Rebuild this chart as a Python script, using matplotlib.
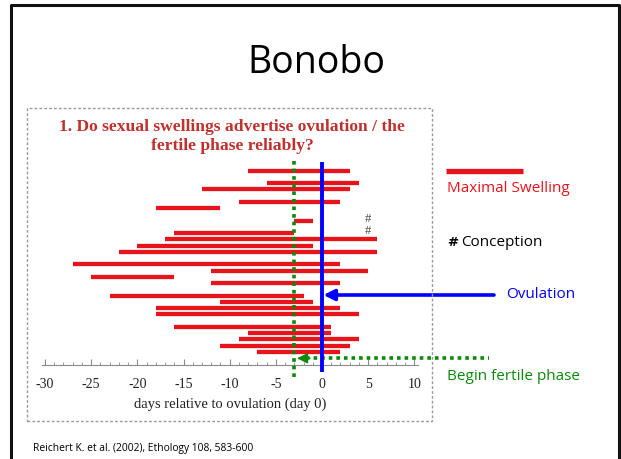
"""Bonobo slide: duration of maximal sexual swelling relative to ovulation."""
import matplotlib
matplotlib.use("Agg")
import matplotlib.pyplot as plt
from matplotlib.lines import Line2D
from matplotlib.patches import Rectangle

# one row per cycle (top to bottom), start / end of maximal swelling (days)
rows = [0, 2, 3, 5, 6, 8, 10, 11, 12, 13, 15, 16, 17, 18, 20,
        21, 22, 23, 25, 26, 27, 28, 29]
swell_start = [-8, -6, -13, -9, -18, -3, -16, -17, -20, -22, -27, -12, -25, -12, -23,
               -11, -18, -18, -16, -8, -9, -11, -7]
swell_end = [3, 4, 3, 2, -11, -1, -3, 6, -1, 6, 2, 5, -16, 2, -2,
             -1, 2, 4, 1, 1, 4, 3, 2]
conception_rows = [8, 10]
conception_day = 5
ovulation_day = 0
fertile_day = -3

RED = "#e8141c"
BLUE = "#0000ff"
GREEN = "#0a8a0a"
TITLE_RED = "#c0302c"
W, H = 621, 459


def px(x, y):
    return x / W, 1 - y / H


fig = plt.figure(figsize=(W / 100, H / 100), dpi=100)
fig.patch.set_facecolor("white")

# slide frame and panel frame
fig.add_artist(Line2D([11 / W, 11 / W, 619 / W, 619 / W], [0, 1 - 5 / H, 1 - 5 / H, 0],
                      color="#111111", lw=2.2, transform=fig.transFigure))
x0, y0 = px(26.5, 420.7)
x1, y1 = px(431.7, 108)
fig.add_artist(Rectangle((x0, y0), x1 - x0, y1 - y0, transform=fig.transFigure,
                         fill=False, ec="#999999", lw=1, ls=(0, (2, 1.5))))

fig.text(*px(316, 63), "Bonobo", family="Open Sans", fontsize=27,
         ha="center", va="center", color="black")
fig.text(*px(33, 448), "Reichert K. et al. (2002), Ethology 108, 583-600",
         family="Open Sans", fontsize=7.4, ha="left", va="center")

fig.text(*px(232, 127), "1. Do sexual swellings advertise ovulation / the",
         family="Liberation Serif", weight="bold", fontsize=12.6,
         color=TITLE_RED, ha="center", va="center")
fig.text(*px(232, 146.5), "fertile phase reliably?",
         family="Liberation Serif", weight="bold", fontsize=12.6,
         color=TITLE_RED, ha="center", va="center")

# axes: x -30 -> 45px, 0 -> 322px ; rows 0 -> 170.7px, 6.25px per row
ppd = 277 / 30
xlo, xhi = -30.3, 10.4
ax_l = 322 + xlo * ppd
ax_w = (xhi - xlo) * ppd
ax_top, ax_bot = 160, 365
ax = fig.add_axes([ax_l / W, 1 - ax_bot / H, ax_w / W, (ax_bot - ax_top) / H])
ax.set_xlim(xlo, xhi)
ylo = (ax_bot - 170.7) / 6.25
yhi = (ax_top - 170.7) / 6.25
ax.set_ylim(ylo, yhi)
ax.patch.set_alpha(0)
for s in ("top", "right", "left"):
    ax.spines[s].set_visible(False)
ax.spines["bottom"].set_color("#8a8a8a")
ax.spines["bottom"].set_linewidth(0.8)
ax.set_yticks([])
ax.set_xticks(range(-30, 11, 5))
ax.set_xticks(range(-30, 11), minor=True)
ax.set_xticklabels([str(v) for v in range(-30, 11, 5)])
ax.tick_params(axis="x", which="major", direction="in", length=4, color="#8a8a8a",
               pad=9, labelsize=10)
ax.tick_params(axis="x", which="minor", direction="in", length=2, color="#8a8a8a")
for lab in ax.get_xticklabels():
    lab.set_family("Liberation Serif")
    lab.set_color("#222222")
ax.set_xlabel("days relative to ovulation (day 0)", family="Liberation Serif",
              fontsize=10.5, labelpad=5, color="#222222")

ax.hlines(rows, swell_start, swell_end, color=RED, lw=3.1, zorder=2)
for r in conception_rows:
    ax.text(conception_day, r - 0.3, "#", family="Liberation Serif", fontsize=9,
            color="#444444", ha="center", va="center")

ax.plot([ovulation_day, ovulation_day], [(161.7 - 170.7) / 6.25, (371.7 - 170.7) / 6.25],
        color=BLUE, lw=2.8, clip_on=False, zorder=3, solid_capstyle="butt")
ax.plot([fertile_day, fertile_day], [(161 - 170.7) / 6.25, (377 - 170.7) / 6.25],
        color=GREEN, lw=2.6, ls=(0, (1, 1.1)), clip_on=False, zorder=4)

# ovulation arrow
ov_row = (295 - 170.7) / 6.25
ax.annotate("", xy=(0.15, ov_row), xytext=((494 - 322) / ppd, ov_row),
            arrowprops=dict(arrowstyle="-|>", color=BLUE, lw=2.6, mutation_scale=16,
                            shrinkA=0, shrinkB=0),
            annotation_clip=False)
# fertile phase arrow (dotted shaft + solid head)
fp_row = (358.3 - 170.7) / 6.25
ax.plot([fertile_day + 1.3, (489 - 322) / ppd], [fp_row, fp_row], color=GREEN, lw=2.6,
        ls=(0, (1, 1.1)), clip_on=False)
ax.annotate("", xy=(fertile_day + 0.3, fp_row), xytext=(fertile_day + 1.7, fp_row),
            arrowprops=dict(arrowstyle="-|>", color=GREEN, lw=1, mutation_scale=16,
                            shrinkA=0, shrinkB=0),
            annotation_clip=False)

# legend on the right
fig.add_artist(Line2D([446 / W, 523 / W], [1 - 170.7 / H] * 2, color=RED, lw=3.8,
                      transform=fig.transFigure, solid_capstyle="butt"))
fig.text(*px(447, 188), "Maximal Swelling", family="Open Sans", fontsize=11,
         color=RED, va="center")
fig.text(*px(447, 242), "#", family="DejaVu Sans", weight="bold", fontsize=9.5,
         color="black", va="center")
fig.text(*px(461, 242), "Conception", family="Open Sans", fontsize=11,
         color="black", va="center")
fig.text(*px(506, 294), "Ovulation", family="Open Sans", fontsize=11,
         color=BLUE, va="center")
fig.text(*px(447, 377), "Begin fertile phase", family="Open Sans", fontsize=11,
         color=GREEN, va="center")

fig.savefig("out.png", dpi=100)
